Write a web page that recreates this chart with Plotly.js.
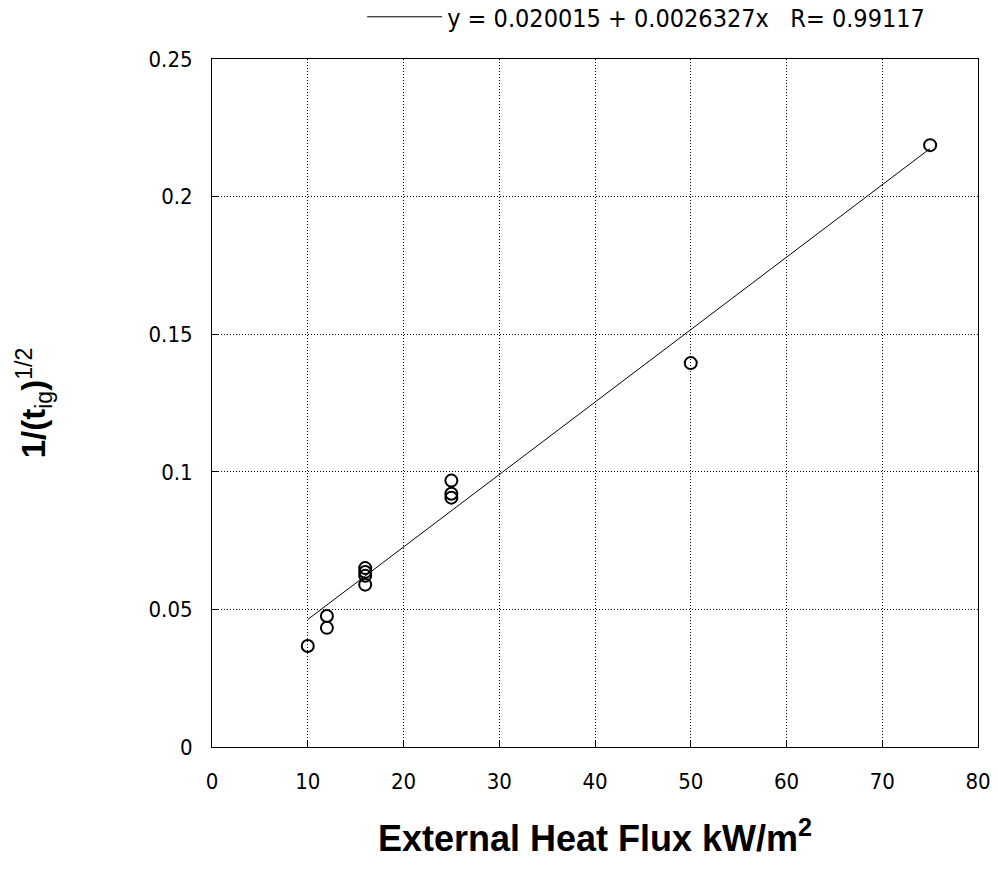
<!DOCTYPE html>
<html>
<head>
<meta charset="utf-8">
<script src="https://cdn.plot.ly/plotly-3.0.1.min.js"></script>
<style>body{margin:0;background:#fff}#chart{width:998px;height:869px}</style>
</head>
<body>
<div id="chart"></div>
<script>
// Measured points: external heat flux (kW/m^2) vs 1/sqrt(t_ig)
const fluxX = [10, 12, 12, 16, 16, 16, 16, 25, 25, 25, 50, 75];
const invSqrtT = [0.0367, 0.0476, 0.0433, 0.0650, 0.0636, 0.0622, 0.0590, 0.0968, 0.0920, 0.0906, 0.1395, 0.2187];
// Linear fit line endpoints
const fitX = [10, 75];
const fitY = [0.04634, 0.21747];
const fitLabel = "y = 0.020015 + 0.0026327x   R= 0.99117";
const xTicks = [0, 10, 20, 30, 40, 50, 60, 70, 80];
const yTicks = [0, 0.05, 0.1, 0.15, 0.2, 0.25];
const yTickText = ["0", "0.05", "0.1", "0.15", "0.2", "0.25"];

const font = "Liberation Sans, Arial, sans-serif";
const narrowFont = "Liberation Sans Narrow, Arial Narrow, DejaVu Sans Condensed, Liberation Sans, sans-serif";

const traces = [
  {
    x: fitX, y: fitY, mode: "lines", name: fitLabel,
    line: {color: "#000", width: 1}, showlegend: true
  },
  {
    x: fluxX, y: invSqrtT, mode: "markers", name: "data", showlegend: false,
    marker: {symbol: "circle-open", size: 12, color: "#000", line: {width: 2, color: "#000"}}
  }
];

const axisCommon = {
  showline: true, mirror: true, linecolor: "#000", linewidth: 1,
  ticks: "inside", ticklen: 6, tickcolor: "#000",
  showgrid: true, gridcolor: "#000", griddash: "1px,2px", gridwidth: 1,
  zeroline: false
};

const layout = {
  width: 998, height: 869,
  margin: {l: 212, r: 20, t: 59, b: 122, autoexpand: false},
  paper_bgcolor: "#fff", plot_bgcolor: "#fff",
  font: {family: font, color: "#000"},
  xaxis: Object.assign({}, axisCommon, {
    range: [0, 80], tickvals: xTicks, ticklabelstandoff: 15,
    tickfont: {family: narrowFont, size: 22, color: "#000"},
    title: {text: "<b>External Heat Flux kW/m<sup>2</sup></b>", font: {family: font, size: 36, color: "#000"}, standoff: 32}
  }),
  yaxis: Object.assign({}, axisCommon, {
    range: [0, 0.25], tickvals: yTicks, ticktext: yTickText, ticklabelstandoff: 14,
    tickfont: {family: narrowFont, size: 22, color: "#000"},
    title: {text: "<b>1/(t</b><sub>ig</sub><b>)</b><sup>1/2</sup>", font: {family: font, size: 33, color: "#000"}, standoff: 92}
  }),
  showlegend: true,
  legend: {
    x: 0.196, xanchor: "left", y: 1.061, yanchor: "middle",
    itemwidth: 75,
    font: {family: narrowFont, size: 25, color: "#000"},
    bgcolor: "rgba(0,0,0,0)", borderwidth: 0
  }
};

Plotly.newPlot("chart", traces, layout, {displayModeBar: false});
</script>
</body>
</html>
